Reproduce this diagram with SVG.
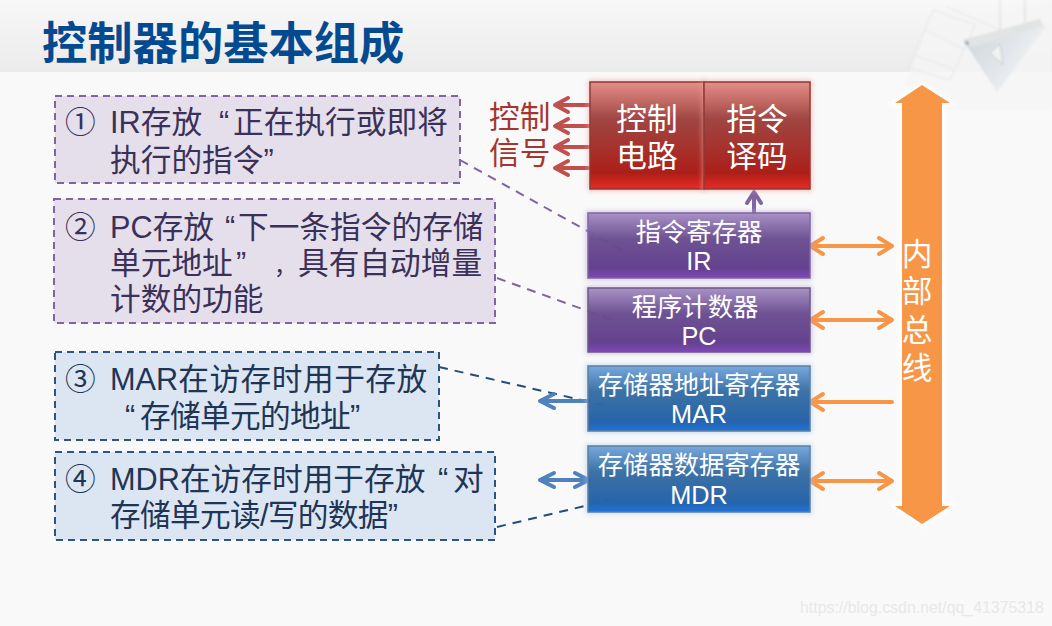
<svg xmlns="http://www.w3.org/2000/svg" width="1052" height="626" viewBox="0 0 1052 626">
<style>
text{font-family:"Liberation Sans","Noto Sans CJK SC",sans-serif}
.note{font-size:30.7px}
.np{fill:#3a3058}
.nb{fill:#1f3555}
.w{fill:#fff;text-anchor:middle}
.b30{font-size:30.7px}
.b25{font-size:25.3px}
.pbox{fill:#e5dfec;stroke:#8064a2;stroke-width:2;stroke-dasharray:7 5}
.bbox{fill:#dce6f2;stroke:#2c5485;stroke-width:2;stroke-dasharray:7 5}
.sig{stroke:#c0504d;stroke-width:4;fill:none;stroke-linecap:round;stroke-linejoin:round}
.org{stroke:#f79646;stroke-width:4;fill:none;stroke-linecap:round;stroke-linejoin:round}
.blu{stroke:#4f81bd;stroke-width:4;fill:none;stroke-linecap:round;stroke-linejoin:round}
.pur{stroke:#8064a2;stroke-width:4;fill:none;stroke-linecap:round;stroke-linejoin:round}
.dp{stroke:#8064a2;stroke-width:2;stroke-dasharray:9 7;fill:none}
.dn{stroke:#1f4e79;stroke-width:2;stroke-dasharray:9 7;fill:none}
.hp{fill:#b9a4d6}
.hb{fill:#a9c8ec}
.hr{fill:#f0a09a}
</style>
<defs>
<linearGradient id="hd" x1="0" y1="0" x2="0" y2="1"><stop offset="0" stop-color="#f8f8f8"/><stop offset="1" stop-color="#ebebeb"/></linearGradient>
<linearGradient id="red" x1="0" y1="0" x2="0" y2="1"><stop offset="0" stop-color="#e58e88"/><stop offset=".35" stop-color="#a04642"/><stop offset=".85" stop-color="#ac1f19"/><stop offset="1" stop-color="#ea2a25"/></linearGradient>
<linearGradient id="pur" x1="0" y1="0" x2="0" y2="1"><stop offset="0" stop-color="#a78fc6" stop-opacity=".95"/><stop offset=".4" stop-color="#65488c" stop-opacity=".92"/><stop offset=".85" stop-color="#5f3a8a" stop-opacity=".95"/><stop offset="1" stop-color="#8048b8"/></linearGradient>
<linearGradient id="blu" x1="0" y1="0" x2="0" y2="1"><stop offset="0" stop-color="#74a6dc" stop-opacity=".95"/><stop offset=".4" stop-color="#2f689f" stop-opacity=".92"/><stop offset=".85" stop-color="#1f5ea6" stop-opacity=".95"/><stop offset="1" stop-color="#1b72dc"/></linearGradient>
<linearGradient id="rul" x1="0" y1="0" x2="1" y2=".6"><stop offset="0" stop-color="#cdd3d8"/><stop offset=".6" stop-color="#e2e6ea"/><stop offset="1" stop-color="#f6f6f6"/></linearGradient>
<filter id="glow" x="-5%" y="-10%" width="110%" height="120%"><feGaussianBlur stdDeviation="2.5"/></filter>
<filter id="soft" x="-5%" y="-5%" width="110%" height="110%"><feGaussianBlur stdDeviation=".8"/></filter>
<filter id="halo" x="-20%" y="-5%" width="140%" height="110%"><feGaussianBlur stdDeviation="2"/></filter>
</defs>
<rect width="1052" height="626" fill="#f9f9f9"/>
<g id="header">
<rect width="1052" height="72" fill="url(#hd)"/>
<g filter="url(#soft)">
<polygon points="935,6 965,25 1000,15 1052,0 1052,110 1000,110 955,110 905,85" fill="#f5f5f5" opacity=".8"/>
<path d="M933 10L975 25L950 80L908 68Z M945 6L1000 30 M925 30L965 50 M915 55L955 70" fill="none" stroke="#e6e6e6" stroke-width="1"/>
<path d="M1000 0V40M1025 0V25" fill="none" stroke="#e2e2e2" stroke-width="1.5"/>
<polygon points="963,40 1040,19 1046,27 997,92" fill="url(#rul)"/>
<polygon points="963,40 1040,19 1043,26 972,47" fill="#e2e4e4"/>
<polygon points="990,53 1003,65 1000,44" fill="#f2f2f2" stroke="#c6cacd" stroke-width="1"/>
<circle cx="967" cy="43" r="2" fill="#a0aab0"/>
</g>
<text x="42" y="60" font-size="45.3" font-weight="700" fill="#044a90">控制器的基本组成</text>
</g>
<g id="connectors">
<path class="dp" d="M460 160L625 252"/>
<path class="dp" d="M497 278L618 322"/>
<path class="dn" d="M439 367L603 405"/>
<path class="dn" d="M497 527L618 498"/>
<path class="sig" d="M589 105H556M568 98L555 105L568 112"/>
<path class="sig" d="M589 126H556M568 119L555 126L568 133"/>
<path class="sig" d="M589 147H556M568 140L555 147L568 154"/>
<path class="sig" d="M589 168H556M568 161L555 168L568 175"/>
<path class="pur" d="M754 213V192M747 203L754 192L761 203"/>
<path class="org" d="M811 246H891M823 238L810 246L823 254M879 238L892 246L879 254"/>
<path class="org" d="M811 320H891M823 312L810 320L823 328M879 312L892 320L879 328"/>
<path class="org" d="M811 402H892M823 394L810 402L823 410"/>
<path class="org" d="M811 481H891M823 473L810 481L823 489M879 473L892 481L879 489"/>
<path class="blu" d="M589 401H542M554 394L540 401L554 408"/>
<path class="blu" d="M588 480H542M554 473L540 480L554 487M575 473L589 480L575 487"/>
</g>
<g id="note1"><rect class="pbox" x="55" y="96" width="405" height="87"/>
<text class="note np" x="65" y="133">①</text><text class="note np" x="110" y="133">IR存放<tspan x="219">“</tspan><tspan x="233">正在执行或即将</tspan></text><text class="note np" x="110" y="171">执行的指令”</text></g>
<g id="note2"><rect class="pbox" x="54" y="199" width="441" height="124"/>
<text class="note np" x="65" y="238">②</text><text class="note np" x="110" y="238">PC存放<tspan x="225">“</tspan><tspan x="238">下一条指令的存储</tspan></text><text class="note np" x="110" y="274">单元地址<tspan x="236">”</tspan></text><text class="np" font-size="23" x="274" y="274">，</text><text class="note np" x="298" y="274">具有自动增量</text><text class="note np" x="110" y="310">计数的功能</text></g>
<g id="note3"><rect class="bbox" x="55" y="352" width="384" height="88"/>
<text class="note nb" x="65" y="390">③</text><text class="note nb" x="110" y="390">MAR<tspan letter-spacing=".5">在访存时用于存放</tspan></text><text class="note nb" x="125" y="427">“<tspan x="140" letter-spacing="-.7">存储单元的地址”</tspan></text></g>
<g id="note4"><rect class="bbox" x="55" y="452" width="440" height="88"/>
<text class="note nb" x="65" y="490">④</text><text class="note nb" x="110" y="490">MDR在访存时用于存放<tspan x="438">“</tspan><tspan x="453">对</tspan></text><text class="note nb" x="110" y="526" letter-spacing="-.7">存储单元读/写的数据”</text></g>
<g id="signal-label"><text x="489" y="128" font-size="30.7" fill="#a5362f">控制</text><text x="489" y="164" font-size="30.7" fill="#a5362f">信号</text></g>
<g id="control"><rect class="hr" x="588" y="80" width="118" height="111" filter="url(#glow)" opacity=".6"/><rect x="590" y="82" width="114" height="107" fill="url(#red)" stroke="#8c3a36" stroke-width="1.5"/>
<text class="w b30" x="647" y="130">控制</text><text class="w b30" x="647" y="167">电路</text></g>
<g id="decode"><rect class="hr" x="702" y="80" width="110" height="111" filter="url(#glow)" opacity=".6"/><rect x="704" y="82" width="106" height="107" fill="url(#red)" stroke="#8c3a36" stroke-width="1.5"/>
<text class="w b30" x="757" y="130">指令</text><text class="w b30" x="757" y="167">译码</text></g>
<g id="ir"><rect class="hp" x="586" y="211" width="226" height="69" filter="url(#glow)" opacity=".6"/><rect x="588" y="213" width="222" height="65" fill="url(#pur)" stroke="#8064a2" stroke-width="1.5"/>
<text class="w b25" x="699" y="241">指令寄存器</text><text class="w b25" x="699" y="270">IR</text></g>
<g id="pc"><rect class="hp" x="586" y="286" width="226" height="68" filter="url(#glow)" opacity=".6"/><rect x="588" y="288" width="222" height="64" fill="url(#pur)" stroke="#6b5a85" stroke-width="1.5"/>
<text class="w b25" x="695" y="316">程序计数器</text><text class="w b25" x="699" y="345">PC</text></g>
<g id="mar"><rect class="hb" x="586" y="364" width="226" height="69" filter="url(#glow)" opacity=".6"/><rect x="588" y="366" width="222" height="65" fill="url(#blu)" stroke="#5f7f9f" stroke-width="1.5"/>
<text class="w b25" x="699" y="394">存储器地址寄存器</text><text class="w b25" x="699" y="423">MAR</text></g>
<g id="mdr"><rect class="hb" x="586" y="444" width="226" height="70" filter="url(#glow)" opacity=".6"/><rect x="588" y="446" width="222" height="66" fill="url(#blu)" stroke="#5f7f9f" stroke-width="1.5"/>
<text class="w b25" x="699" y="474">存储器数据寄存器</text><text class="w b25" x="699" y="504">MDR</text></g>
<g id="bus"><polygon points="922,85 950,103 942,103 942,506 950,506 922,524 895,506 902,506 902,103 895,103" fill="#fff" stroke="#fff" stroke-width="5" filter="url(#halo)"/><polygon points="922,85 950,103 942,103 942,506 950,506 922,524 895,506 902,506 902,103 895,103" fill="#f79646"/>
<text class="w b30" x="917" y="265">内</text><text class="w b30" x="917" y="302">部</text><text class="w b30" x="917" y="341">总</text><text class="w b30" x="917" y="379">线</text></g>
<text x="800" y="613" font-size="15.9" fill="#e8e8e8">https://blog.csdn.net/qq_41375318</text>
</svg>
